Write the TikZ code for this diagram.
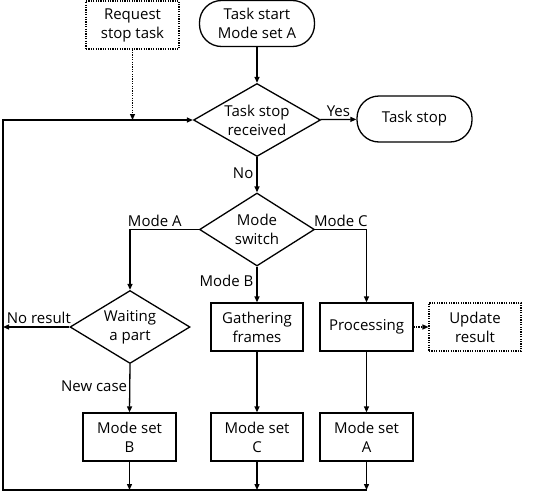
\documentclass[tikz,border=0pt]{standalone}
\usepackage{fontspec}
\setmainfont{Open Sans}
\usetikzlibrary{shapes.geometric,arrows.meta}
\begin{document}
\begin{tikzpicture}[x=1pt,y=-1pt,
  every node/.style={font=\fontsize{15}{19}\selectfont, inner sep=0pt, align=center},
  box/.style={draw, line width=1.3pt, minimum width=92pt, minimum height=48pt},
  dbox/.style={draw, line width=1.1pt, dash pattern=on 1.2pt off 1.2pt, minimum width=93pt, minimum height=48pt},
  term/.style={draw, line width=1.3pt, rounded corners=22pt, minimum width=115pt, minimum height=46pt},
  dec/.style={draw, line width=1.3pt, diamond, aspect=1.74, minimum width=0pt, inner sep=0pt},
  con/.style={line width=1.3pt, -{Triangle[length=6pt,width=5pt]}},
  dcon/.style={line width=1.1pt, dash pattern=on 1.2pt off 1.2pt, -{Triangle[length=6pt,width=5pt]}},
  lab/.style={font=\fontsize{15}{19}\selectfont}
]
\useasboundingbox (0,0) rectangle (533,493);
\node[dbox] (req) at (132.5,25) {Request\\stop task};
\node[term] (start) at (257,23.5) {Task start\\Mode set A};
\node[dec, minimum width=127pt, minimum height=73pt] (tsr) at (257,120) {Task stop\\received};
\node[term] (stop) at (414.5,119) {Task stop};
\node[dec, minimum width=115pt, minimum height=73pt] (ms) at (257,229.5) {Mode\\switch};
\node[dec, minimum width=120pt, minimum height=73pt] (wait) at (130,327) {Waiting\\a part};
\node[box] (gath) at (257,327) {Gathering\\frames};
\node[box, minimum width=93pt] (proc) at (366.5,327) {Processing};
\node[dbox, minimum width=92pt] (upd) at (475,327) {Update\\result};
\node[box, minimum width=93pt] (msb) at (129.5,437) {Mode set\\B};
\node[box] (msc) at (257,437) {Mode set\\C};
\node[box, minimum width=93pt] (msa) at (366.5,437) {Mode set\\A};
\coordinate (bl) at (3,490);
\coordinate (tl) at (3,120);
\coordinate (br) at (366.5,490);
\coordinate (nr) at (3,327);
\coordinate (jn) at (132.5,120);

\draw[con] (start) -- (tsr);
\draw[con] (tsr) -- node[lab, above=2pt] {Yes} (stop);
\draw[con] (tsr) -- node[lab, left=3pt, pos=0.45] {No} (ms);
\draw[line width=1.3pt] (br) -- (bl) -- (tl) -- (jn);
\draw[con] (jn) -- (tsr.west);
\draw[dcon] (req) -- (jn);
\draw[con] (ms.west) -- node[lab, above=2pt, pos=0.64] {Mode A} (130,229.5) -- (wait.north);
\draw[con] (ms.east) -- node[lab, above=2pt, pos=0.5] {Mode C} (366.5,229.5) -- (proc.north);
\draw[con] (ms.south) -- node[lab, left=3pt, pos=0.4] {Mode B} (gath.north);
\draw[con] (wait.west) -- node[lab, above=3pt, pos=0.46] {No result} (nr);
\draw[con] (wait.south) -- node[lab, left=2pt, pos=0.45] {New case} (msb.north);
\draw[con] (gath) -- (msc);
\draw[con] (proc) -- (msa);
\draw[dcon] (proc) -- (upd);
\draw[con] (msb.south) -- (msb.south |- bl);
\draw[con] (msc.south) -- (msc.south |- bl);
\draw[con] (msa.south) -- (br);
\end{tikzpicture}
\end{document}
